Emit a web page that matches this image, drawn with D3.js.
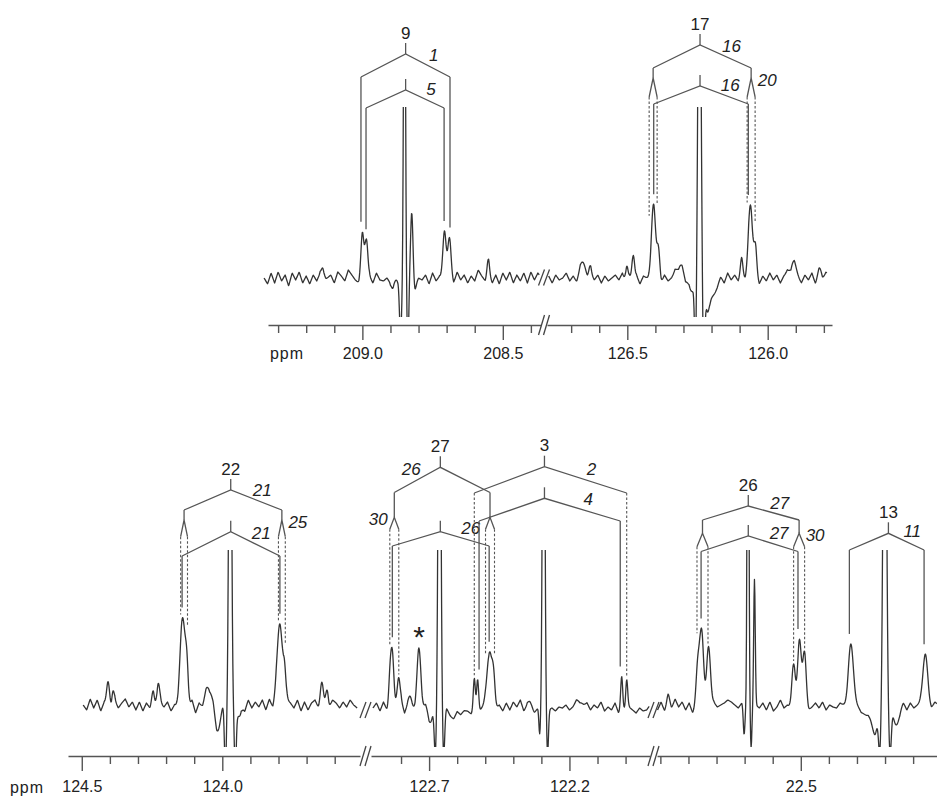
<!DOCTYPE html>
<html>
<head>
<meta charset="utf-8">
<script src="https://cdn.jsdelivr.net/npm/d3@7"></script>
<style>
  body { margin: 0; background: #fff; }
  text { font-family: "Liberation Sans", Arial, sans-serif; fill: #222; }
</style>
</head>
<body>
<svg width="937" height="797"></svg>
<script>
// ---- DATA ----
var noiseStep = 0.0125; // ppm between noise samples

// axis domains (ppm) and spectrum extents for each broken segment
var topSegments = [
  {start: 209.336, end: 208.364, specStart: 209.35, specEnd: 208.37},
  {start: 126.786, end: 125.771, specStart: 126.78, specEnd: 125.79}
];
var bottomSegments = [
  {start: 124.549, end: 123.510, specStart: 124.495, specEnd: 123.52},
  {start: 122.907, end: 121.913, specStart: 122.90, specEnd: 121.915},
  {start: 23.012, end: 22.015, specStart: 23.01, specEnd: 22.015}
];

// ticks
var topMinorTicks = [[209.3, 209.2, 209.1, 208.9, 208.8, 208.7, 208.6, 208.4],
                     [126.7, 126.6, 126.4, 126.3, 126.2, 126.1, 125.9, 125.8]];
var topMajorTicks = [[209.0, 208.5], [126.5, 126.0]];
var bottomMinorTicks = [[124.4, 124.3, 124.2, 124.1, 123.9, 123.8, 123.7, 123.6],
                        [122.8, 122.6, 122.5, 122.4, 122.3, 122.1, 122.0],
                        [23.0, 22.9, 22.8, 22.7, 22.6, 22.4, 22.3, 22.2, 22.1]];
var bottomMajorTicks = [[124.5, 124.0], [122.7, 122.2], [22.5]];

// peaks: [ppm, intensity, width (ppm)]
var topPeaks = [
  [
    [209.140, 13, 0.0053], [209.000, 42, 0.0053], [208.986, 43, 0.0053],
    [208.891, -10, 0.0053], [208.864, -60, 0.0039], [208.850, 420, 0.0032],
    [208.838, -70, 0.0032], [208.824, 62, 0.0043], [208.814, -8, 0.0053],
    [208.708, 47, 0.0057], [208.690, 38, 0.0057], [208.552, 15, 0.0043]
  ],
  [
    [126.658, 15, 0.0107], [126.633, 8, 0.0043], [126.502, 15, 0.0043],
    [126.479, 25, 0.0046], [126.407, 70, 0.0075], [126.389, 28, 0.0050],
    [126.312, 12, 0.0107], [126.273, -12, 0.0089], [126.257, -80, 0.0036],
    [126.243, 420, 0.0050], [126.228, -80, 0.0036], [126.216, -30, 0.0071],
    [126.195, -14, 0.0142], [126.093, 15, 0.0043], [126.061, 73, 0.0075],
    [126.044, 28, 0.0050], [125.910, 14, 0.0107], [125.814, 9, 0.0071]
  ]
];
var bottomPeaks = [
  [
    [124.406, 22, 0.0053], [124.389, 14, 0.0043], [124.247, 10, 0.0043],
    [124.228, 24, 0.0053], [124.141, 82, 0.0093], [124.126, 32, 0.0050],
    [124.050, 15, 0.0107], [124.015, -25, 0.0107], [123.989, -70, 0.0036],
    [123.972, 500, 0.0043], [123.954, -70, 0.0036], [123.937, -10, 0.0071],
    [123.795, 78, 0.0093], [123.779, 30, 0.0050], [123.646, 23, 0.0053],
    [123.627, 14, 0.0043]
  ],
  [
    [122.839, 32, 0.0046], [122.831, 48, 0.0050], [122.809, 28, 0.0053],
    [122.768, 8, 0.0053], [122.736, 55, 0.0071], [122.693, -18, 0.0089],
    [122.678, -45, 0.0036], [122.663, 500, 0.0043], [122.648, -45, 0.0036],
    [122.618, -5, 0.0214], [122.539, 32, 0.0036], [122.527, 33, 0.0036],
    [122.485, 56, 0.0085], [122.470, 25, 0.0050], [122.340, 7, 0.0071],
    [122.306, -25, 0.0028], [122.292, 500, 0.0039], [122.278, -45, 0.0032],
    [122.162, 5, 0.0107], [122.014, 32, 0.0036], [121.996, 30, 0.0036]
  ],
  [
    [22.972, 9, 0.0053], [22.867, 40, 0.0061], [22.853, 72, 0.0068],
    [22.829, 60, 0.0068], [22.702, -27, 0.0028], [22.688, 500, 0.0028],
    [22.677, -40, 0.0025], [22.665, 128, 0.0028], [22.526, 40, 0.0061],
    [22.505, 68, 0.0065], [22.487, 50, 0.0061], [22.322, 61, 0.0089],
    [22.260, -12, 0.0178], [22.235, -22, 0.0089], [22.219, -45, 0.0043],
    [22.201, 500, 0.0053], [22.182, -45, 0.0043], [22.161, -20, 0.0107],
    [22.057, 52, 0.0082]
  ]
];

// baseline noise, one value per noiseStep
var topNoise = [
  [0,-6,5,-5,6,-3,3,-8,5,-2,6,-5,2,-6,3,-3,5,-6,0,3,
   -5,6,2,-3,8,3,-2,-5,3,-6,2,-5,5,-2,-3,0,-5,2,-3,3,
   -6,-2,5,-5,0,-2,3,-6,5,-3,2,-2,3,2,-5,6,-2,3,-5,2,
   -3,8,2,-3,5,-5,3,-6,5,-2,6,-5,3,-3,5,-5,6,-2,5,0],
  [2,-5,3,-2,0,5,-3,2,-5,3,0,-3,5,-2,3,-5,2,-3,0,3,
   -2,5,-5,2,-3,3,-6,2,0,-3,5,2,-5,3,-3,0,6,-2,3,-5,
   2,-3,5,-2,-5,3,-6,-3,-2,3,-5,5,-2,3,-3,6,-2,5,-5,3,
   -6,2,-3,5,-2,3,-5,2,6,-3,5,0,-5,3,-2,5,-6,2,-3,6,0]
];
var bottomNoise = [
  [0,-5,6,-3,5,-6,3,2,-5,5,-3,2,6,-2,3,-5,3,-6,2,-3,
   5,-5,2,-2,3,-6,0,-5,6,3,-3,5,-8,2,-3,5,0,6,-3,3,
   8,5,-3,6,-5,2,-6,5,-3,3,-2,5,-5,6,-3,8,3,-5,6,2,
   -3,5,-6,3,-5,2,5,-3,0,3,-2,5,2,-3,3,-2,5,0,-3,2],
  [-3,2,-6,3,-5,-2,3,-3,5,-8,2,0,-5,3,-6,2,-3,5,-2,3,
   -5,0,-6,-9,-3,-8,-5,-6,-9,-5,-8,-3,2,-5,3,-3,0,-6,2,-5,
   3,-2,5,-6,0,-5,-8,-3,-6,-2,-5,-3,-6,-2,-3,0,-5,-2,3,-3,
   -2,2,-5,0,-3,3,-6,-2,-5,2,-8,-3,-6,-2,-5,-8,-3,-6,-5,0],
  [-5,3,-6,2,-3,6,-2,3,-5,2,-8,-3,3,0,-5,2,3,-2,0,2,
   5,3,0,-3,2,-5,3,-6,0,-3,2,-5,3,-6,-2,5,-3,0,-3,2,
   -5,0,3,-5,-2,2,-3,3,-5,0,-2,-3,2,0,-3,0,2,0,-3,0,
   2,-2,-3,2,-2,3,-3,2,0,-2,3,-5,2,-3,0,3,-2,2,-3,3,0]
];

// assignment brackets (ppm); legs: solid | dashed | split (with split half-width)
var topBrackets = [
  {seg: 0, label: "9", coupling: "1", center: 208.846, left: 209.005, right: 208.688},
  {seg: 0, coupling: "5", center: 208.846, left: 208.987, right: 208.709},
  {seg: 1, label: "17", coupling: "16", side: "20", sideAt: "right", center: 126.241, left: 126.408, right: 126.059, split: 0.0142},
  {seg: 1, coupling: "16", center: 126.241, left: 126.406, right: 126.069}
];
var bottomBrackets = [
  {seg: 0, label: "22", coupling: "21", side: "25", sideAt: "right", center: 123.970, left: 124.136, right: 123.788, split: 0.0122},
  {seg: 0, coupling: "21", center: 123.970, left: 124.143, right: 123.795},
  {seg: 1, label: "27", coupling: "26", arm: "left", side: "30", sideAt: "left", center: 122.660, left: 122.824, right: 122.483, split: 0.016},
  {seg: 1, coupling: "26", center: 122.660, left: 122.831, right: 122.486},
  {seg: 1, label: "3", coupling: "2", center: 122.289, left: 122.539, right: 121.996, dashed: true},
  {seg: 1, coupling: "4", center: 122.289, left: 122.522, right: 122.019},
  {seg: 2, label: "26", coupling: "27", side: "30", sideAt: "right", center: 22.687, left: 22.850, right: 22.506, split: 0.0196},
  {seg: 2, coupling: "27", center: 22.687, left: 22.855, right: 22.510},
  {seg: 2, label: "13", coupling: "11", center: 22.188, left: 22.327, right: 22.061}
];
var bottomMarks = [{seg: 1, ppm: 122.736, text: "*"}];

// ---- LAYOUT ----
var svg = d3.select("svg");

var topLayout = [
  {apex: 54, end: 77}, {apex: 90, end: 108},
  {apex: 45, end: 68, split: 78, div: 97}, {apex: 86, end: 104}
];
var bottomLayout = [
  {apex: 490, end: 510, split: 520, div: 536.7}, {apex: 531.7, end: 556},
  {apex: 467.3, end: 492.5, split: 517.3, div: 529.3}, {apex: 531.7, end: 546},
  {apex: 466.7, end: 493}, {apex: 498.3, end: 521},
  {apex: 506, end: 520, split: 533.3, div: 546.7}, {apex: 536, end: 551.5},
  {apex: 533.3, end: 550}
];

var panels = [
  {id: "clipTop", segs: topSegments, ranges: [[268, 541], [547, 832]], base: 278, axisY: 325,
   clip: [107, 317], peaks: topPeaks, noise: topNoise, minor: topMinorTicks, major: topMajorTicks,
   pad: 7.4, ppmPos: [287, 353], brackets: topBrackets, layout: topLayout, marks: []},
  {id: "clipBottom", segs: bottomSegments, ranges: [[68, 360], [371, 650], [657, 937]], base: 705, axisY: 756,
   clip: [550, 747], peaks: bottomPeaks, noise: bottomNoise, minor: bottomMinorTicks, major: bottomMajorTicks,
   pad: 9.4, ppmPos: [27, 787], brackets: bottomBrackets, layout: bottomLayout, marks: bottomMarks}
];

function makeValue(seg, peaks, noise) {
  return function(ppm) {
    var t = (seg.specStart - ppm) / noiseStep, i = Math.floor(t), f = t - i;
    var a = noise[i] || 0, b = noise[i + 1] || 0;
    var v = a + (b - a) * f;
    peaks.forEach(function(p) {
      var z = (ppm - p[0]) / p[2];
      v += p[1] * Math.exp(-0.5 * z * z);
    });
    return v;
  };
}

function breakMark(g, cx, cy, h) {
  [-2.5, 2.5].forEach(function(dx) {
    g.append("line")
      .attr("x1", cx + dx - 3).attr("y1", cy + h / 2)
      .attr("x2", cx + dx + 3).attr("y2", cy - h / 2)
      .attr("stroke", "#444").attr("stroke-width", 1.3);
  });
}

function drawPanel(P) {
  var g = svg.append("g");
  var x = P.segs.map(function(s, i) {
    return d3.scaleLinear().domain([s.start, s.end]).range(P.ranges[i]);
  });
  var y = d3.scaleLinear().domain([0, 100]).range([P.base, P.base - 100]);
  var val = P.segs.map(function(s, i) { return makeValue(s, P.peaks[i], P.noise[i]); });

  svg.append("clipPath").attr("id", P.id).append("rect")
    .attr("x", 0).attr("y", P.clip[0]).attr("width", 937).attr("height", P.clip[1] - P.clip[0]);

  // spectrum
  P.segs.forEach(function(s, i) {
    var pts = [];
    for (var p = s.specStart; p >= s.specEnd; p -= 0.0015) pts.push([x[i](p), y(val[i](p))]);
    g.append("path")
      .attr("d", d3.line()(pts))
      .attr("fill", "none").attr("stroke", "#333").attr("stroke-width", 1.3)
      .attr("stroke-linejoin", "round")
      .attr("clip-path", "url(#" + P.id + ")");
  });

  // axes
  P.segs.forEach(function(s, i) {
    var ga = g.append("g").attr("transform", "translate(0," + P.axisY + ")");
    ga.call(d3.axisBottom(x[i]).tickValues(P.minor[i]).tickSize(8).tickSizeOuter(0).tickFormat(""));
    var gm = g.append("g").attr("transform", "translate(0," + P.axisY + ")");
    gm.call(d3.axisBottom(x[i]).tickValues(P.major[i]).tickSize(15).tickSizeOuter(0)
      .tickPadding(P.pad).tickFormat(d3.format(".1f")));
    gm.select(".domain").remove();
    [ga, gm].forEach(function(a) {
      a.selectAll("path, line").attr("stroke", "#555").attr("stroke-width", 1.4);
      a.selectAll("text").attr("font-size", 16).attr("font-family", null).attr("fill", "#222");
    });
  });
  g.append("text").attr("x", P.ppmPos[0]).attr("y", P.ppmPos[1])
    .attr("text-anchor", "middle").attr("dominant-baseline", "central")
    .attr("font-size", 16).attr("letter-spacing", 1).text("ppm");

  // breaks
  for (var i = 0; i < P.segs.length - 1; i++) {
    var bx = (P.ranges[i][1] + P.ranges[i + 1][0]) / 2;
    var sy = (y(val[i](P.segs[i].specEnd)) + y(val[i + 1](P.segs[i + 1].specStart))) / 2;
    breakMark(g, bx, sy + 2, 16);
    breakMark(g, bx, P.axisY, 20);
  }

  function legEnd(i, xpos, win, gap) {
    var best = -1e9;
    for (var d = -win; d <= win; d += 0.5) best = Math.max(best, val[i](x[i].invert(xpos + d)));
    return y(best) - gap;
  }

  // brackets
  P.brackets.forEach(function(b, k) {
    var L = P.layout[k], sx = x[b.seg];
    var cx = sx(b.center), lx = sx(b.left), rx = sx(b.right);
    var bg = g.append("g").attr("fill", "none").attr("stroke", "#555").attr("stroke-width", 1.3);
    bg.append("line").attr("x1", cx).attr("x2", cx).attr("y1", L.apex - 11).attr("y2", L.apex);
    bg.append("path").attr("d", d3.line()([[lx, L.end], [cx, L.apex], [rx, L.end]]));

    [[lx, b.left], [rx, b.right]].forEach(function(leg) {
      var lxp = leg[0], p = leg[1];
      if (b.split) {
        var xa = sx(p + b.split), xb = sx(p - b.split);
        bg.append("path").attr("d", d3.line()([[lxp, L.end], [lxp, L.split]]));
        bg.append("path").attr("d", d3.line()([[xa, L.div], [lxp, L.split], [xb, L.div]]));
        [xa, xb].forEach(function(xd) {
          bg.append("line").attr("x1", xd).attr("x2", xd).attr("y1", L.div)
            .attr("y2", legEnd(b.seg, xd, 3, 3))
            .attr("stroke-dasharray", "2.5,2").attr("stroke-width", 1.1);
        });
      } else {
        bg.append("line").attr("x1", lxp).attr("x2", lxp).attr("y1", L.end)
          .attr("y2", b.dashed ? legEnd(b.seg, lxp, 3, 3) : legEnd(b.seg, lxp, 2, 10))
          .attr("stroke-dasharray", b.dashed ? "2.5,2" : null)
          .attr("stroke-width", b.dashed ? 1.1 : 1.3);
      }
    });

    if (b.label) {
      g.append("text").attr("x", cx).attr("y", L.apex - 21)
        .attr("text-anchor", "middle").attr("dominant-baseline", "central")
        .attr("font-size", 17).text(b.label);
    }
    var dir = b.arm === "left" ? -1 : 1;
    var ex = dir < 0 ? lx : rx;
    g.append("text")
      .attr("x", (cx + ex) / 2 + 6 * dir).attr("y", (L.apex + L.end) / 2 - 10)
      .attr("text-anchor", "middle").attr("dominant-baseline", "central")
      .attr("font-size", 17).attr("font-style", "italic").text(b.coupling);
    if (b.side) {
      var sdir = b.sideAt === "left" ? -1 : 1;
      g.append("text")
        .attr("x", (sdir < 0 ? lx : rx) + 16 * sdir).attr("y", L.split + 2)
        .attr("text-anchor", "middle").attr("dominant-baseline", "central")
        .attr("font-size", 17).attr("font-style", "italic").text(b.side);
    }
  });

  // marks (impurity)
  P.marks.forEach(function(m) {
    var mx = x[m.seg](m.ppm), my = y(val[m.seg](m.ppm)) - 17;
    g.append("text").attr("x", mx).attr("y", my + 16)
      .attr("text-anchor", "middle").attr("font-size", 30).text(m.text);
  });
}

panels.forEach(drawPanel);
</script>
</body>
</html>
